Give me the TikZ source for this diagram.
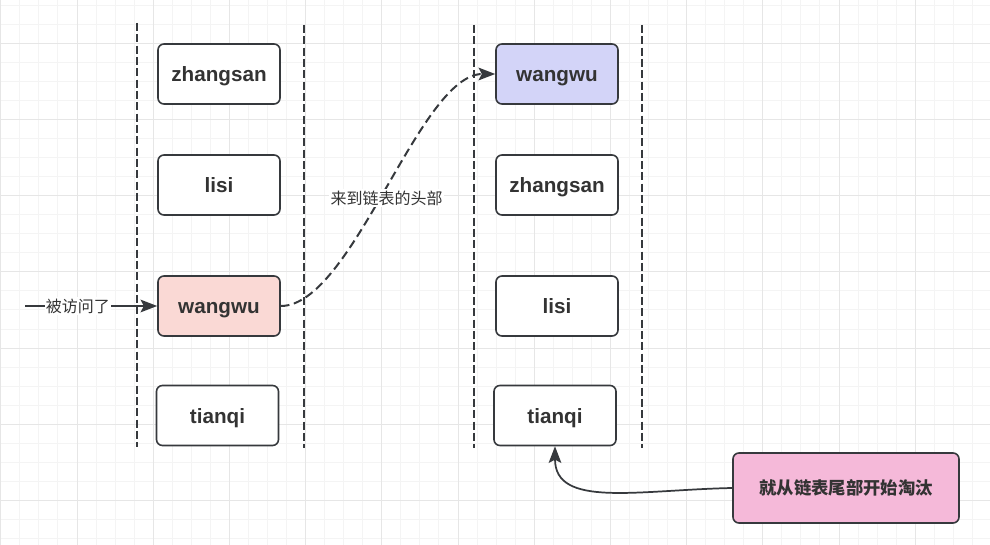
\documentclass[tikz,border=0pt]{standalone}
\usepackage{fontspec}
\setmainfont{Liberation Sans}
\newfontfamily\cjk{Noto Sans CJK SC}
\usetikzlibrary{arrows.meta}
\definecolor{gridminor}{HTML}{F4F4F4}
\definecolor{gridmajor}{HTML}{E6E6E6}
\definecolor{edgegray}{HTML}{36393D}
\definecolor{hitpink}{HTML}{FAD9D5}
\definecolor{headblue}{HTML}{D3D4F8}
\definecolor{notepink}{HTML}{F5B9D9}

\tikzset{
  namebox/.style={draw=edgegray, line width=1.2pt, rounded corners=4.5pt, fill=white,
    minimum width=91.5pt, minimum height=45pt, inner sep=0pt, text=black!80,
    text height=11.6pt, text depth=0pt,
    font=\fontsize{15.5}{18}\selectfont\bfseries},
  sepline/.style={edgegray, line width=1.5pt, dash pattern=on 6pt off 2.5pt},
  flow/.style={edgegray, line width=1.3pt, -{Stealth[length=12.5pt,width=9.5pt,inset=2.5pt]}},
  cjklabel/.style={fill=white, inner sep=1pt, text=black!80, font=\cjk\fontsize{12}{14}\selectfont}
}

\begin{document}
\begin{tikzpicture}[x=0.75pt,y=-0.75pt]
\useasboundingbox (0,0) rectangle (990,545);
\fill[white] (0,0) rectangle (990,545);

% background grid
\foreach \x in {0.8,19.85,...,990} \draw[gridminor, line width=0.75pt] (\x,0) -- (\x,545);
\foreach \y in {5.2,24.25,...,545} \draw[gridminor, line width=0.75pt] (0,\y) -- (990,\y);
\foreach \x in {0.8,77,...,990} \draw[gridmajor, line width=0.75pt] (\x,0) -- (\x,545);
\foreach \y in {43.3,119.5,...,545} \draw[gridmajor, line width=0.75pt] (0,\y) -- (990,\y);

% dashed column borders
\draw[sepline] (137,23) -- (137,447);
\draw[sepline] (304,25) -- (304,448);
\draw[sepline] (474,25) -- (474,448);
\draw[sepline] (642,25) -- (642,448);

% list before the access
\node[namebox] (zs1) at (219,74) {zhangsan};
\node[namebox] (ls1) at (219,185) {lisi};
\node[namebox, fill=hitpink] (hit) at (219,306) {wangwu};
\node[namebox] (tq1) at (217.5,415.5) {tianqi};

% list after the access
\node[namebox, fill=headblue] (head) at (557,74) {wangwu};
\node[namebox] (zs2) at (557,185) {zhangsan};
\node[namebox] (ls2) at (557,306) {lisi};
\node[namebox] (tail) at (555,415.5) {tianqi};

% eviction note
\node[namebox, fill=notepink, minimum width=169.5pt, minimum height=52.5pt,
  text height=10pt, font=\cjk\fontsize{13}{15}\selectfont\bfseries] (note) at (846,488) {就从链表尾部开始淘汰};

% access arrow
\coordinate (src) at (25,306);
\draw[flow] (src) -- (hit.west) node[cjklabel, pos=0.4] {被访问了};

% move to head
\draw[flow, line width=1.5pt, dash pattern=on 6.5pt off 3.5pt] (hit.east) .. controls +(72,0) and +(-76,0) .. (head.west)
  node[cjklabel, pos=0.5, yshift=-6pt] {来到链表的头部};

% evict from tail
\draw[flow] (note.west) .. controls +(-95,2) and +(0,62) .. (tail.south);

\end{tikzpicture}
\end{document}
